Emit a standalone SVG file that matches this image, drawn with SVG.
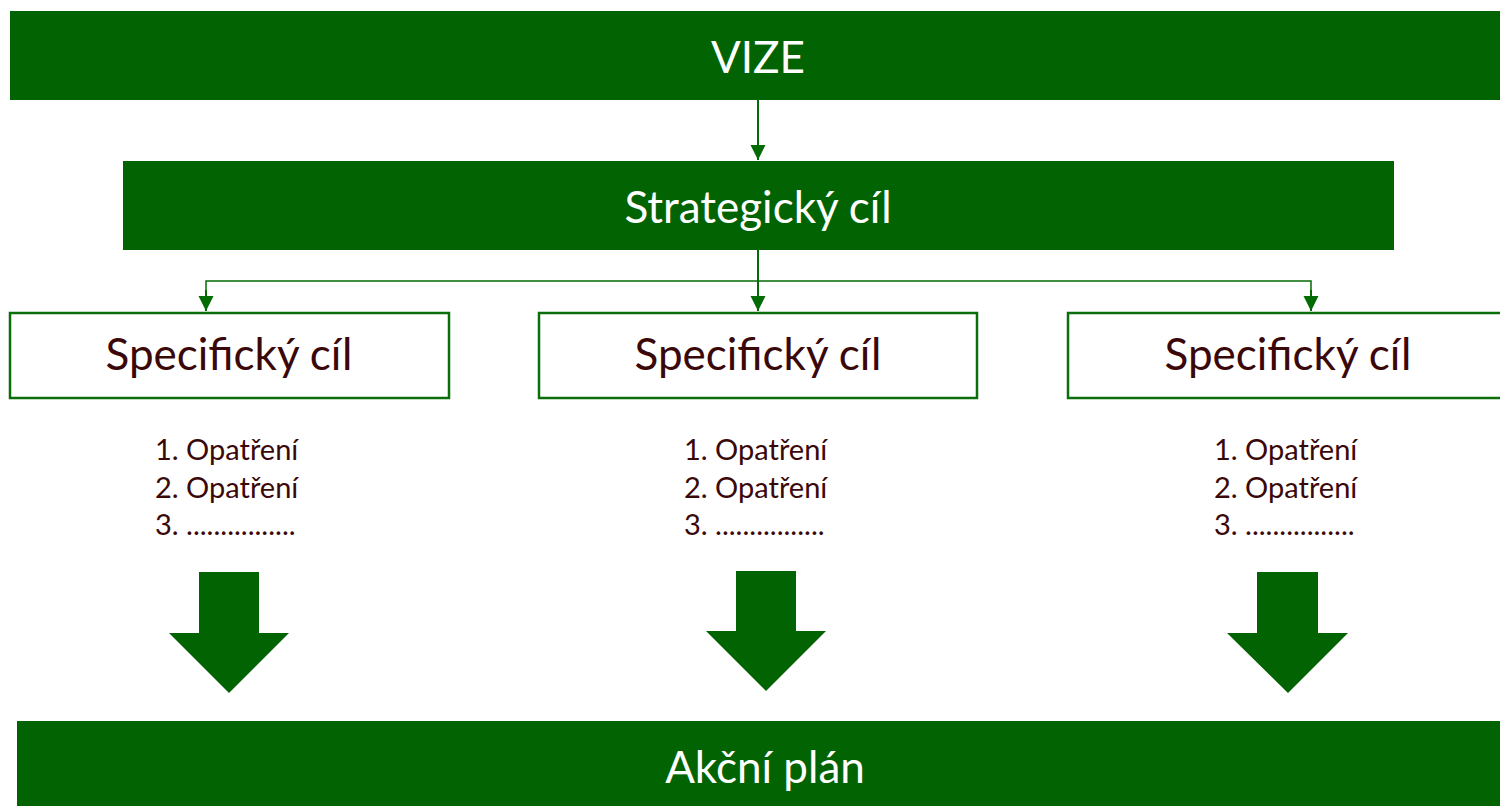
<svg xmlns="http://www.w3.org/2000/svg" width="1500" height="806" viewBox="0 0 1500 806">
<style>
.bar{fill:#026302}
.box{fill:#fff;stroke:#0a6e0a;stroke-width:2.5}
.wt{fill:#fff;font-family:Lato,"Open Sans","Liberation Sans",sans-serif;font-size:44px;text-anchor:middle}
.dt{fill:#3a0808;font-family:Lato,"Open Sans","Liberation Sans",sans-serif;font-size:44px;text-anchor:middle}
.lt{fill:#3a0808;font-family:Lato,"Open Sans","Liberation Sans",sans-serif;font-size:29px}
.con{fill:none;stroke:#036b03;stroke-width:2}
.big{fill:#026302}
</style>
<defs>
<marker id="ah" markerWidth="16" markerHeight="16" refX="15" refY="7.5" orient="auto" markerUnits="userSpaceOnUse">
<path d="M0,0 L15,7.5 L0,15 Z" fill="#036b03"/>
</marker>
</defs>
<g id="vize"><rect class="bar" x="10" y="11" width="1500" height="89"/><text class="wt" x="758" y="73">VIZE</text></g>
<g id="strategicky"><rect class="bar" x="123" y="161" width="1271" height="89"/><text class="wt" x="758" y="223">Strategický cíl</text></g>
<g id="spec1"><rect class="box" x="10" y="313" width="439" height="85"/><text class="dt" x="229" y="370">Specifický cíl</text>
<text class="lt" x="155" y="460">1. Opatření</text><text class="lt" x="155" y="498">2. Opatření</text><text class="lt" x="155" y="535">3. ................</text></g>
<g id="spec2"><rect class="box" x="539" y="313" width="438" height="85"/><text class="dt" x="758" y="370">Specifický cíl</text>
<text class="lt" x="684" y="460">1. Opatření</text><text class="lt" x="684" y="498">2. Opatření</text><text class="lt" x="684" y="535">3. ................</text></g>
<g id="spec3"><rect class="box" x="1068" y="313" width="450" height="85"/><text class="dt" x="1288" y="370">Specifický cíl</text>
<text class="lt" x="1214" y="460">1. Opatření</text><text class="lt" x="1214" y="498">2. Opatření</text><text class="lt" x="1214" y="535">3. ................</text></g>
<g id="arrows">
<polygon class="big" points="199,572 259,572 259,633 289,633 229,693 169,633 199,633"/>
<polygon class="big" points="736,571 796,571 796,631 826,631 766,691 706,631 736,631"/>
<polygon class="big" points="1257,572 1318,572 1318,633 1348,633 1288,693 1227,633 1257,633"/>
</g>
<g id="akcni"><rect class="bar" x="17" y="721" width="1500" height="90"/><text class="wt" x="765" y="783">Akční plán</text></g>
<g id="connectors">
<line class="con" x1="758" y1="100" x2="758" y2="160" marker-end="url(#ah)"/>
<line class="con" x1="758" y1="250" x2="758" y2="311" marker-end="url(#ah)"/>
<polyline class="con" style="stroke-width:1.5" points="206,300 206,281 1311,281 1311,300"/>
<line class="con" x1="206" y1="290" x2="206" y2="311" marker-end="url(#ah)"/>
<line class="con" x1="1311" y1="290" x2="1311" y2="311" marker-end="url(#ah)"/>
</g>
</svg>
